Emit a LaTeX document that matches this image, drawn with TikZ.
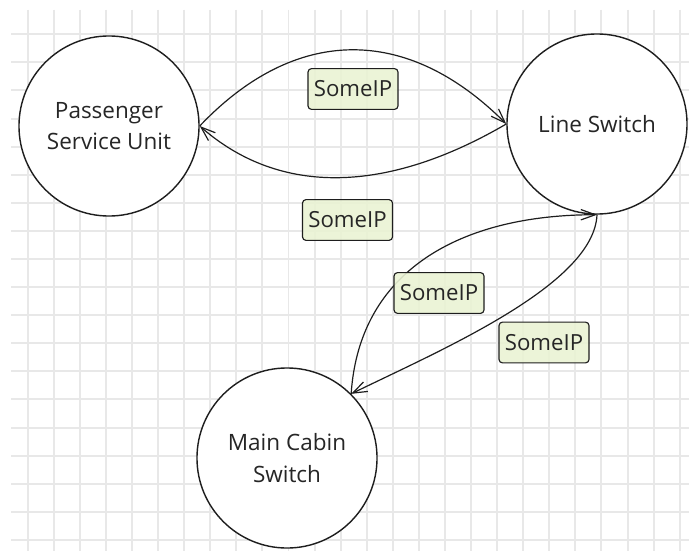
\documentclass[tikz,border=0pt]{standalone}
\usepackage{fontspec}
\setmainfont{Open Sans}
\usepackage{tikz}
\usetikzlibrary{arrows.meta,positioning}

\definecolor{gridgray}{RGB}{232,232,232}
\definecolor{tagfill}{RGB}{234,243,212}
\definecolor{inkline}{RGB}{30,30,30}

\begin{document}
\begin{tikzpicture}[x=0.025cm,y=-0.025cm,
  gridline/.style={gridgray,line width=1.4pt},
  unit/.style={circle,draw=inkline,line width=1pt,fill=white,minimum size=4.5cm,
    inner sep=0pt,align=center,font=\fontsize{16}{22.5}\selectfont,text=black!85},
  flow/.style={-{Straight Barb[length=0.36cm,width=0.26cm]},inkline,line width=0.85pt},
  tag/.style={draw=inkline,line width=0.8pt,rounded corners=2.5pt,fill=tagfill,fill opacity=0.9,
    text opacity=1,minimum width=2.25cm,minimum height=1.02cm,inner sep=0pt,
    font=\fontsize{15.8}{20}\selectfont,text=black!85}]
\useasboundingbox (0,0) rectangle (689,551);
\fill[white] (0,0) rectangle (689,551);

% Background grid
\foreach \i in {0,...,25}
  \draw[gridline] ({27.7+26.08*\i},10) -- ({27.7+26.08*\i},551);
\foreach \j in {0,...,18}
  \draw[gridline] (11,{34.3+28.09*\j}) -- (689,{34.3+28.09*\j});

% Network units
\node[unit] (psu) at (109,126) {Passenger\\Service Unit};
\node[unit] (ls)  at (597,124) {Line Switch};
\node[unit] (mcs) at (287,458) {Main Cabin\\Switch};

% Links between the units
\draw[flow] (psu.east) .. controls +(95,-100) and +(-100,-100) .. (ls.west);
\draw[flow] (ls.west) .. controls +(-120,70) and +(80,70) .. (psu.east);
\draw[flow] (mcs.north east) .. controls +(8,-123) and +(-137,0) .. (ls.south);
\draw[flow] (ls.south) .. controls +(-3,70) and +(90,-44) .. (mcs.north east);

% Protocol tags
\node[tag] (tagA) at (353,89)  {SomeIP};
\node[tag] (tagB) at (347.5,220) {SomeIP};
\node[tag] (tagC) at (439,293) {SomeIP};
\node[tag] (tagD) at (544,342.5) {SomeIP};
\end{tikzpicture}
\end{document}
